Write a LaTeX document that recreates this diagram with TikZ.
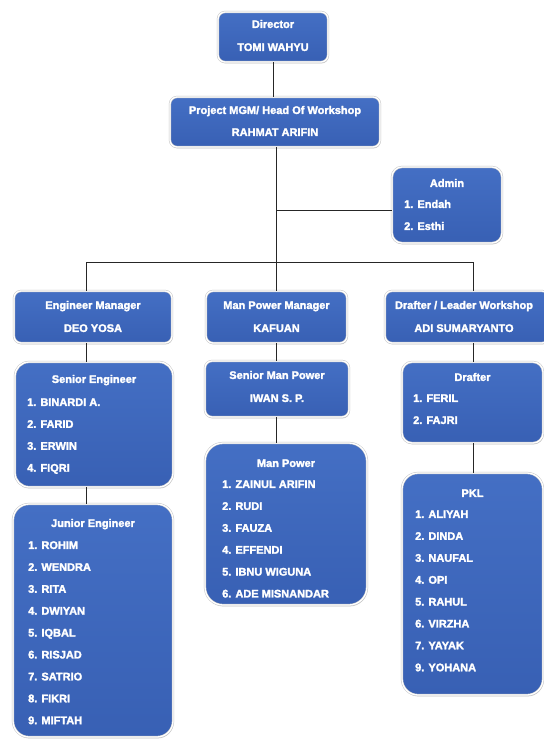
\documentclass[tikz,border=0pt]{standalone}
\usepackage{fontspec}
\setmainfont{Liberation Sans}
\newfontfamily\heavyfont[FakeBold=2.2]{Liberation Sans Bold}
\usetikzlibrary{shadows}
\definecolor{bluetop}{RGB}{68,111,196}
\definecolor{bluebot}{RGB}{56,96,180}
\tikzset{
  box/.style={rectangle, rounded corners=#1, top color=bluetop, bottom color=bluebot,
    draw=black!22, double=white, double distance=1.3pt, line width=0.5pt,
    drop shadow={shadow xshift=0.6pt, shadow yshift=-1.4pt, fill=black!45, opacity=0.45},
    inner sep=0pt},
  box/.default=7pt,
  ttl/.style={text=white, font=\heavyfont\fontsize{11}{12}\selectfont, inner sep=0pt,
    text height=7.9pt, text depth=0pt, anchor=center},
  itm/.style={ttl, anchor=west},
  link/.style={draw=black!85, line width=0.9pt}
}
\begin{document}
\begin{tikzpicture}[x=1pt,y=-1pt]
\fill[white] (0,0) rectangle (544,740);
\useasboundingbox (0,0) rectangle (544,740);
\clip (0,0) rectangle (544,740);
% boxes
\node[box, minimum width=110, minimum height=50] (dir) at (273,37) {};
\node[box, minimum width=210, minimum height=50] (pm) at (275,122) {};
\node[box=10pt, minimum width=110, minimum height=76] (adm) at (447,205) {};
\node[box, minimum width=158, minimum height=52] (em) at (93,317) {};
\node[box, minimum width=141, minimum height=52] (mpm) at (276.5,317) {};
\node[box, minimum width=164, minimum height=52] (dlw) at (467,317) {};
\node[box=14pt, minimum width=158, minimum height=125] (se) at (94,424.5) {};
\node[box=16pt, minimum width=160, minimum height=233] (je) at (93,620.5) {};
\node[box, minimum width=144, minimum height=56] (smp) at (277,389) {};
\node[box=18pt, minimum width=162, minimum height=162] (mp) at (286,524) {};
\node[box=10pt, minimum width=141, minimum height=81] (dr) at (472.5,402.5) {};
\node[box=16pt, minimum width=141, minimum height=222] (pkl) at (472.5,584) {};
% connectors
\coordinate (busL) at (86,262);
\coordinate (busM) at (276,262);
\coordinate (busR) at (473,262);
\coordinate (admJ) at (276,210);
\draw[link] (dir.south) -- (dir.south |- pm.north);
\draw[link] (pm.south -| busM) -- (busM);
\draw[link] (admJ) -- (admJ -| adm.west);
\draw[link] (busL) -- (busR);
\draw[link] (busL) -- (busL |- em.north);
\draw[link] (busM) -- (busM |- mpm.north);
\draw[link] (busR) -- (busR |- dlw.north);
\draw[link] (em.south -| busL) -- (busL |- se.north);
\draw[link] (se.south -| busL) -- (busL |- je.north);
\draw[link] (mpm.south -| busM) -- (busM |- smp.north);
\draw[link] (smp.south -| busM) -- (busM |- mp.north);
\draw[link] (dlw.south -| busR) -- (busR |- dr.north);
\draw[link] (dr.south -| busR) -- (busR |- pkl.north);
% texts
\node[ttl] (dirT) at (273,24) {Director};
\node[ttl] (dirN) at (273,47) {TOMI WAHYU};
\node[ttl] (pmT) at (275,110) {Project MGM/ Head Of Workshop};
\node[ttl] (pmN) at (275,132) {RAHMAT ARIFIN};
\node[ttl] (admT) at (447,183) {Admin};
\node[itm] (adm1) at (404,204) {1. Endah};
\node[itm] (adm2) at (404,226) {2. Esthi};
\node[ttl] (emT) at (93,305) {Engineer Manager};
\node[ttl] (emN) at (93,328) {DEO YOSA};
\node[ttl] (mpmT) at (276.5,305) {Man Power Manager};
\node[ttl] (mpmN) at (276.5,328) {KAFUAN};
\node[ttl] (dlwT) at (464,305) {Drafter / Leader Workshop};
\node[ttl] (dlwN) at (464,328) {ADI SUMARYANTO};
\node[ttl] (seT) at (94,379) {Senior Engineer};
\foreach \t [count=\i] in {1. BINARDI A.,2. FARID,3. ERWIN,4. FIQRI}
  \node[itm] (se\i) at (27,{402+21.9*(\i-1)}) {\t};
\node[ttl] (jeT) at (93,523) {Junior Engineer};
\foreach \t [count=\i] in {1. ROHIM,2. WENDRA,3. RITA,4. DWIYAN,5. IQBAL,6. RISJAD,7. SATRIO,8. FIKRI,9. MIFTAH}
  \node[itm] (je\i) at (28,{545+21.9*(\i-1)}) {\t};
\node[ttl] (smpT) at (277,375) {Senior Man Power};
\node[ttl] (smpN) at (277,398) {IWAN S. P.};
\node[ttl] (mpT) at (286,463) {Man Power};
\foreach \t [count=\i] in {1. ZAINUL ARIFIN,2. RUDI,3. FAUZA,4. EFFENDI,5. IBNU WIGUNA,6. ADE MISNANDAR}
  \node[itm] (mp\i) at (222,{484+21.9*(\i-1)}) {\t};
\node[ttl] (drT) at (472.5,377) {Drafter};
\node[itm] (dr1) at (413,398) {1. FERIL};
\node[itm] (dr2) at (413,420) {2. FAJRI};
\node[ttl] (pklT) at (472.5,493) {PKL};
\foreach \t [count=\i] in {1. ALIYAH,2. DINDA,3. NAUFAL,4. OPI,5. RAHUL,6. VIRZHA,7. YAYAK,9. YOHANA}
  \node[itm] (pkl\i) at (415,{514+21.9*(\i-1)}) {\t};
\end{tikzpicture}
\end{document}
